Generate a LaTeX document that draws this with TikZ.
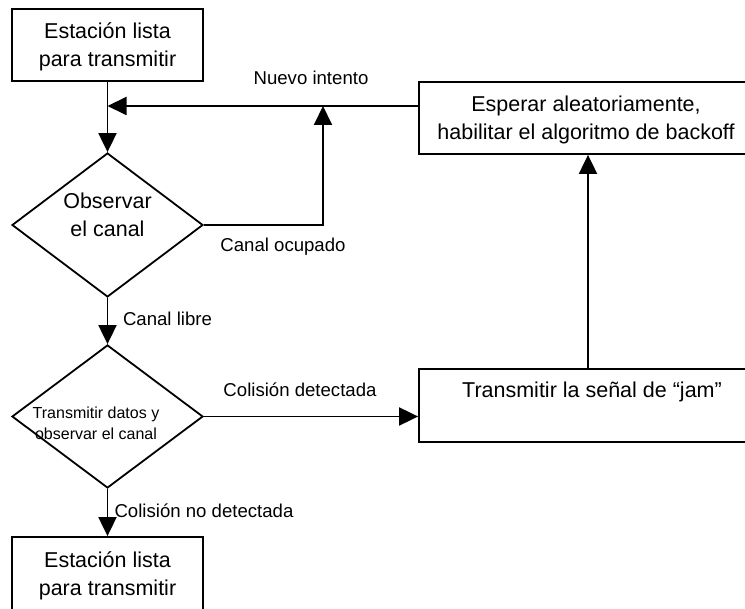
\documentclass[tikz,border=0pt]{standalone}
\usepackage{fontspec}
\setmainfont{Liberation Sans}
\usetikzlibrary{shapes.geometric,arrows.meta}
\tikzset{
  box/.style={draw, line width=1.8pt, inner sep=0pt, minimum width=#1},
  dia/.style={draw, diamond, line width=1.8pt, inner sep=0pt, minimum width=191pt, minimum height=144pt},
  bigtxt/.style={font=\fontsize{21.5}{28}\selectfont, align=center, inner sep=0pt},
  lbl/.style={font=\fontsize{18.6}{22}\selectfont, inner sep=0pt},
  smalltxt/.style={font=\fontsize{16}{21}\selectfont, align=center, inner sep=0pt},
  conn/.style={line width=1.9pt, -{Triangle[length=19pt,width=18pt]}}
}
\begin{document}
\begin{tikzpicture}[x=1pt,y=-1pt]
\useasboundingbox (0,0) rectangle (745,609);
\clip (0,0) rectangle (745,609);
\fill[white] (0,0) rectangle (745,609);
% nodes
\node[box=191pt, minimum height=72pt] (top) at (107.5,45) {};
\node[bigtxt] (toptxt) at (107.5,47) {Estación lista\\para transmitir};
\node[dia] (d1) at (107.5,225) {};
\node[bigtxt] (d1txt) at (107.5,215) {Observar\\el canal};
\node[dia, minimum height=143pt] (d2) at (107.5,416.5) {};
\node[smalltxt] (d2txt) at (96,423) {Transmitir datos y\\observar el canal};
\node[box=191pt, minimum height=75pt] (bot) at (107.5,574.5) {};
\node[bigtxt] (bottxt) at (107.5,576) {Estación lista\\para transmitir};
\node[box=334pt, minimum height=72pt] (back) at (586,118) {};
\node[bigtxt] (backtxt) at (586,120) {Esperar aleatoriamente,\\habilitar el algoritmo de backoff};
\node[box=346pt, minimum height=73pt] (jam) at (592,405.5) {};
\node[bigtxt] (jamtxt) at (592,392) {Transmitir la señal de “jam”};
\coordinate (join) at (107.5,106);
\coordinate (merge) at (323,106);
\coordinate (up) at (588,0);
% connectors
\draw[conn] (top.south) -- (d1.north);
\draw[conn] (join -| back.west) -- (join);
\draw[conn] (d1.east) -| (merge);
\draw[conn] (d1.south) -- (d2.north);
\draw[conn] (d2.east) -- (d2.east -| jam.west);
\draw[conn] (d2.south) -- (bot.north);
\draw[conn] (jam.north -| up) -- (back.south -| up);
% labels
\node[lbl] (l1) at (311,78) {Nuevo intento};
\node[lbl] (l2) at (283,247) {Canal ocupado};
\node[lbl] (l3) at (167.5,319) {Canal libre};
\node[lbl] (l4) at (300,390) {Colisión detectada};
\node[lbl] (l5) at (204,511) {Colisión no detectada};
\end{tikzpicture}
\end{document}
